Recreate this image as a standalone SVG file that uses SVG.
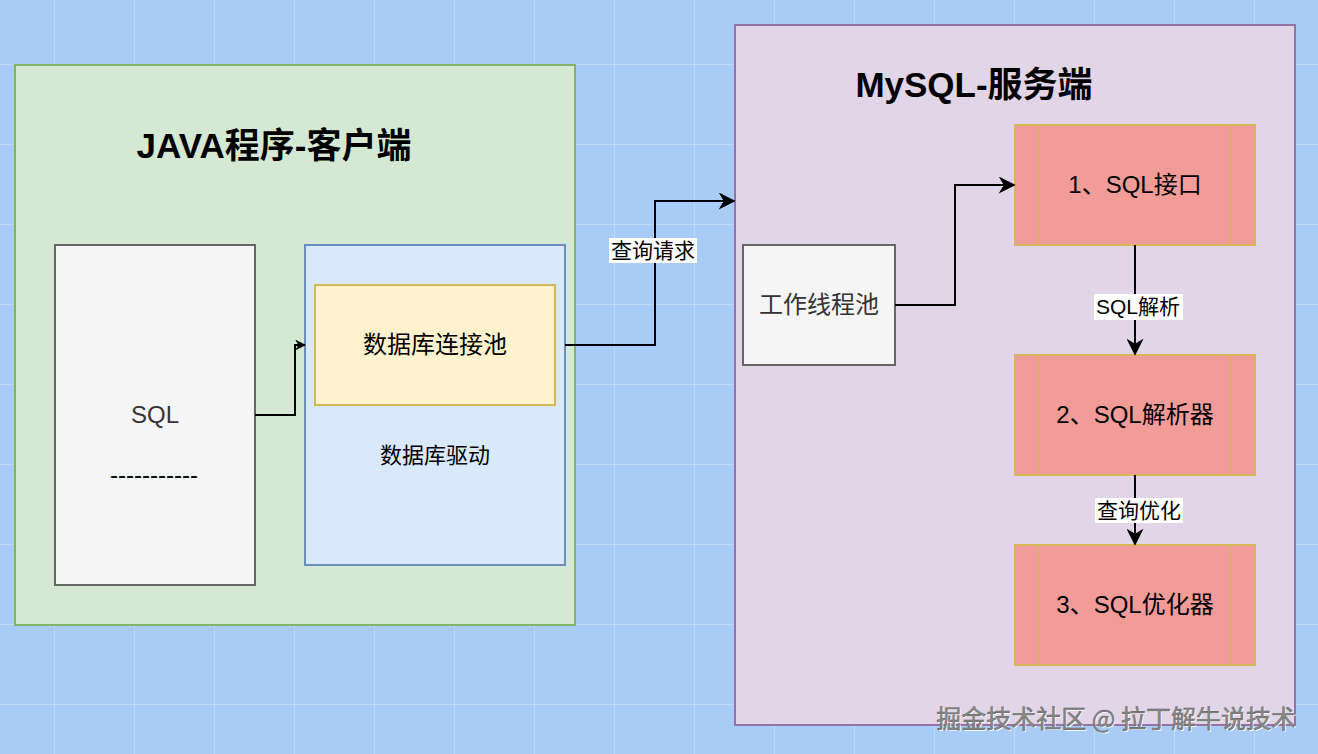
<svg xmlns="http://www.w3.org/2000/svg" width="1318" height="754" viewBox="0 0 1318 754">
<defs>
  <pattern id="grid" x="54" y="64" width="80" height="80" patternUnits="userSpaceOnUse">
    <path d="M0 0 H80 M0 0 V80" fill="none" stroke="#cadef6" stroke-width="1.5"/>
  </pattern>
  <marker id="arr" viewBox="0 0 10 10" refX="9" refY="5" markerWidth="11" markerHeight="11" markerUnits="userSpaceOnUse" orient="auto">
    <path d="M0 0 L10 5 L0 10 L3 5 Z" fill="#000"/>
  </marker>
  <marker id="arrL" viewBox="0 0 10 10" refX="9" refY="5" markerWidth="18" markerHeight="17" markerUnits="userSpaceOnUse" orient="auto">
    <path d="M0 0 L10 5 L0 10 L3 5 Z" fill="#000"/>
  </marker>
</defs>
<style>
  .t{font-family:"Liberation Sans","Noto Sans CJK SC",sans-serif;text-anchor:middle;fill:#000}
  .title{font-size:35px;font-weight:bold}
  .n{font-size:24px}
  .g{fill:#333}
  .lbl{font-size:21px}
  .box{stroke-width:2}
  .proc{fill:#f19c99;stroke:#d6b656;stroke-width:2}
  .pl{stroke:#d6b656;stroke-width:1.5}
  .edge{fill:none;stroke:#000;stroke-width:2}
  .lblbg{fill:#fff}
</style>
<rect width="1318" height="754" fill="#a8ccf5"/>
<rect width="1318" height="754" fill="url(#grid)"/>

<g id="client">
  <rect x="15" y="65" width="560" height="560" fill="#d5e8d4" stroke="#82b366" class="box"/>
  <text class="t title" x="274" y="158">JAVA程序-客户端</text>
</g>
<g id="sql">
  <rect x="55" y="245" width="200" height="340" fill="#f5f5f5" stroke="#666666" class="box"/>
  <text class="t n g" x="155" y="423">SQL</text>
  <text class="t n" x="154" y="483">-----------</text>
</g>
<g id="driver">
  <rect x="305" y="245" width="260" height="320" fill="#dae8fc" stroke="#6c8ebf" class="box"/>
  <text class="t" style="font-size:22px" x="435" y="463">数据库驱动</text>
</g>
<g id="pool">
  <rect x="315" y="285" width="240" height="120" fill="#fff2cc" stroke="#d6b656" class="box"/>
  <text class="t n" x="435" y="353">数据库连接池</text>
</g>

<g id="server">
  <rect x="735" y="25" width="560" height="700" fill="#e1d5e7" stroke="#9673a6" class="box"/>
  <text class="t title" x="974" y="97">MySQL-服务端</text>
</g>
<g id="worker">
  <rect x="743" y="245" width="152" height="120" fill="#f5f5f5" stroke="#666666" class="box"/>
  <text class="t n g" x="819" y="313">工作线程池</text>
</g>
<g id="p1">
  <rect x="1015" y="125" width="240" height="120" class="proc"/>
  <line x1="1039" y1="125" x2="1039" y2="245" class="pl"/>
  <line x1="1231" y1="125" x2="1231" y2="245" class="pl"/>
  <text class="t n" x="1135" y="193">1、SQL接口</text>
</g>
<g id="p2">
  <rect x="1015" y="355" width="240" height="120" class="proc"/>
  <line x1="1039" y1="355" x2="1039" y2="475" class="pl"/>
  <line x1="1231" y1="355" x2="1231" y2="475" class="pl"/>
  <text class="t n" x="1135" y="423">2、SQL解析器</text>
</g>
<g id="p3">
  <rect x="1015" y="545" width="240" height="120" class="proc"/>
  <line x1="1039" y1="545" x2="1039" y2="665" class="pl"/>
  <line x1="1231" y1="545" x2="1231" y2="665" class="pl"/>
  <text class="t n" x="1135" y="613">3、SQL优化器</text>
</g>

<g id="connectors">
  <path d="M255 415 H295 V345 H305" class="edge" marker-end="url(#arr)"/>
  <path d="M565 345 H655 V201 H734" class="edge" marker-end="url(#arrL)"/>
  <rect x="609" y="238" width="88" height="25" class="lblbg"/>
  <text class="t lbl" x="653" y="258">查询请求</text>
  <path d="M895 305 H955 V185 H1014" class="edge" marker-end="url(#arrL)"/>
  <path d="M1135 245 V354" class="edge" marker-end="url(#arrL)"/>
  <rect x="1094" y="294" width="89" height="26" class="lblbg"/>
  <text class="t lbl" x="1138" y="314">SQL解析</text>
  <path d="M1135 475 V544" class="edge" marker-end="url(#arrL)"/>
  <rect x="1095" y="498" width="88" height="25" class="lblbg"/>
  <text class="t lbl" x="1139" y="518">查询优化</text>
</g>

<g id="watermark">
  <text x="1297" y="729" style="font-family:'Noto Sans CJK SC','Liberation Sans',sans-serif;font-size:25px;text-anchor:end;fill:#ffffff">掘金技术社区 @ 拉丁解牛说技术</text>
  <text x="1296" y="728" style="font-family:'Noto Sans CJK SC','Liberation Sans',sans-serif;font-size:25px;text-anchor:end;fill:#8a8a8a;stroke:#555;stroke-width:0.4">掘金技术社区 @ 拉丁解牛说技术</text>
</g>
</svg>
